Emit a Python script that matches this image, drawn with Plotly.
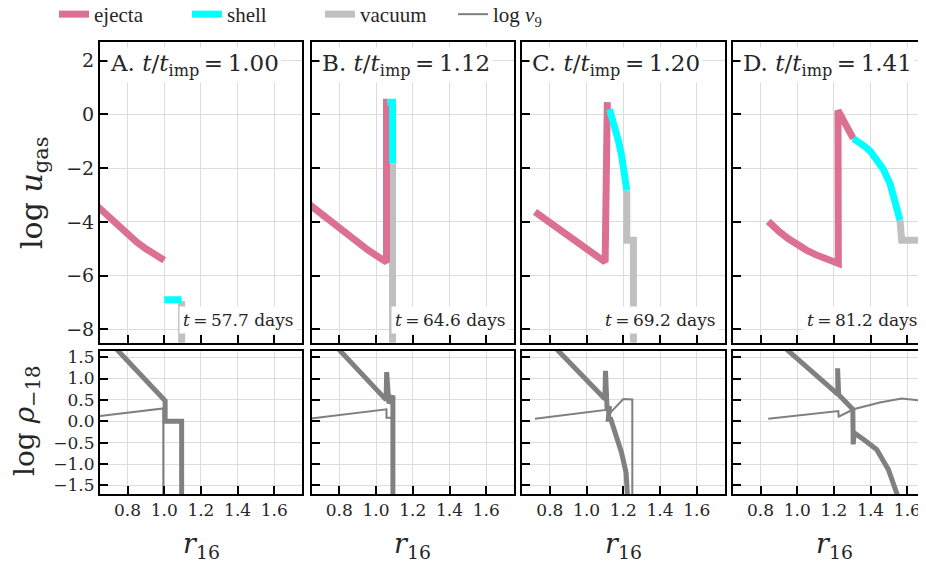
import plotly.graph_objects as go

# ---------------- data ----------------
panel_letters = ["A.", "B.", "C.", "D."]
t_ratio = ["1.00", "1.12", "1.20", "1.41"]
t_days = ["57.7", "64.6", "69.2", "81.2"]
x_ticks = [0.8, 1.0, 1.2, 1.4, 1.6]
u_ticks = [-8, -6, -4, -2, 0, 2]
rho_ticks = [-1.5, -1.0, -0.5, 0.0, 0.5, 1.0, 1.5]

# Panel A
ejA_r = [0.62, 0.66, 0.70, 0.75, 0.80, 0.85, 0.90, 0.95, 1.00]
ejA_u = [-3.32, -3.58, -3.83, -4.16, -4.47, -4.75, -5.00, -5.22, -5.43]
shA_r = [1.00, 1.095]
shA_u = [-6.9, -6.9]
vaA_r = [1.095, 1.095]
vaA_u = [-6.95, -10.0]
rhoA_r = [0.70, 1.005, 1.005, 1.095, 1.095]
rhoA_v = [1.87, 0.48, 0.0, 0.0, -3.0]
v9A_r = [0.60, 0.995, 0.995]
v9A_v = [0.10, 0.30, -3.0]

# Panel B
ejB_r = [0.62, 0.66, 0.70, 0.75, 0.80, 0.85, 0.90, 0.95, 1.00, 1.057, 1.057, 1.062]
ejB_u = [-3.26, -3.48, -3.70, -3.98, -4.25, -4.52, -4.78, -5.02, -5.25, -5.50, 0.46, 0.46]
shB_r = [1.062, 1.09, 1.09]
shB_u = [0.46, 0.46, -1.83]
vaB_r = [1.09, 1.09]
vaB_u = [-1.83, -10.0]
rhoB_r = [0.75, 1.055, 1.058, 1.063, 1.07, 1.092, 1.092]
rhoB_v = [1.90, 0.50, 1.15, 0.45, 0.42, 0.60, -3.0]
v9B_r = [0.62, 1.057, 1.057, 1.087, 1.087]
v9B_v = [0.05, 0.28, 0.08, 0.08, -3.0]

# Panel C
ejC_r = [0.719, 0.76, 0.80, 0.85, 0.90, 0.95, 1.00, 1.05, 1.101, 1.113]
ejC_u = [-3.63, -3.84, -4.03, -4.27, -4.50, -4.76, -5.00, -5.25, -5.49, 0.46]
shC_r = [1.125, 1.15, 1.173, 1.19, 1.20, 1.21, 1.219]
shC_u = [0.20, -0.35, -0.97, -1.50, -1.96, -2.40, -2.83]
vaC_r = [1.219, 1.219, 1.255, 1.255]
vaC_u = [-2.83, -4.68, -4.68, -10.0]
rhoC_r = [0.80, 1.100, 1.103, 1.108, 1.112, 1.125, 1.118, 1.132, 1.155, 1.19, 1.215, 1.225]
rhoC_v = [1.85, 0.52, 1.18, 0.50, 0.25, 0.35, 0.05, 0.05, -0.27, -0.73, -1.20, -1.90]
v9C_r = [0.719, 1.11, 1.118, 1.20, 1.249, 1.249]
v9C_v = [0.06, 0.27, 0.15, 0.52, 0.51, -3.0]

# Panel D
ejD_r = [0.842, 0.87, 0.90, 0.95, 1.00, 1.05, 1.10, 1.16, 1.224, 1.222, 1.306]
ejD_u = [-3.98, -4.17, -4.35, -4.62, -4.85, -5.05, -5.22, -5.39, -5.55, 0.15, -0.90]
shD_r = [1.306, 1.34, 1.37, 1.40, 1.433, 1.47, 1.506, 1.535, 1.56]
shD_u = [-0.90, -1.04, -1.20, -1.38, -1.65, -2.05, -2.58, -3.20, -3.94]
vaD_r = [1.56, 1.569, 1.678, 1.678]
vaD_u = [-3.94, -4.68, -4.68, -10.0]
rhoD_r = [0.90, 1.222, 1.220, 1.226, 1.303, 1.305, 1.31, 1.36, 1.433, 1.497, 1.55, 1.56]
rhoD_v = [1.84, 0.63, 1.24, 0.62, 0.28, -0.54, -0.27, -0.42, -0.66, -1.13, -1.70, -1.90]
v9D_r = [0.842, 1.224, 1.226, 1.306, 1.45, 1.569, 1.678, 1.678]
v9D_v = [0.06, 0.24, 0.11, 0.28, 0.44, 0.53, 0.48, -3.0]

panels = [
    (ejA_r, ejA_u, shA_r, shA_u, vaA_r, vaA_u, rhoA_r, rhoA_v, v9A_r, v9A_v),
    (ejB_r, ejB_u, shB_r, shB_u, vaB_r, vaB_u, rhoB_r, rhoB_v, v9B_r, v9B_v),
    (ejC_r, ejC_u, shC_r, shC_u, vaC_r, vaC_u, rhoC_r, rhoC_v, v9C_r, v9C_v),
    (ejD_r, ejD_u, shD_r, shD_u, vaD_r, vaD_u, rhoD_r, rhoD_v, v9D_r, v9D_v),
]

# ---------------- style ----------------
OFF = 8  # default page body margin
W, H = 926 - OFF, 561 - OFF
C_EJ = "#db7093"
C_SH = "#00ffff"
C_VA = "#c0c0c0"
C_RHO = "#808080"
C_V9 = "#7f7f7f"
FONT = "DejaVu Serif"
LFONT = "Liberation Serif"
TXT = "#262626"

# layout positions in page pixels (converted below to figure fractions)
x_px = [(100, 302), (311.7, 514), (522.3, 724.5), (733, 926)]
top_px = (42, 342.7)
bot_px = (350.7, 494)
xr_full = [0.65, 1.751]
xr_D = [0.65, 0.65 + (926 - 733) / 183.5]


def fx(px):
    return (px - OFF) / W


def fy(py):
    return 1 - (py - OFF) / H


def ax(letter, k):
    return letter if k == 1 else f"{letter}{k}"


fig = go.Figure()

for i, p in enumerate(panels):
    ej_r, ej_u, sh_r, sh_u, va_r, va_u, rho_r, rho_v, v9_r, v9_v = p
    xt, yt = ax("x", i + 1), ax("y", i + 1)
    xb, yb = ax("x", i + 5), ax("y", i + 5)
    first = i == 0
    fig.add_trace(go.Scatter(x=va_r, y=va_u, mode="lines", xaxis=xt, yaxis=yt,
                             line=dict(color=C_VA, width=7), name="vacuum",
                             legendgroup="va", showlegend=first, legendrank=3))
    fig.add_trace(go.Scatter(x=ej_r, y=ej_u, mode="lines", xaxis=xt, yaxis=yt,
                             line=dict(color=C_EJ, width=7), name="ejecta",
                             legendgroup="ej", showlegend=first, legendrank=1))
    fig.add_trace(go.Scatter(x=sh_r, y=sh_u, mode="lines", xaxis=xt, yaxis=yt,
                             line=dict(color=C_SH, width=7), name="shell",
                             legendgroup="sh", showlegend=first, legendrank=2))
    fig.add_trace(go.Scatter(x=rho_r, y=rho_v, mode="lines", xaxis=xb, yaxis=yb,
                             line=dict(color=C_RHO, width=5), name="log rho",
                             showlegend=False))
    fig.add_trace(go.Scatter(x=v9_r, y=v9_v, mode="lines", xaxis=xb, yaxis=yb,
                             line=dict(color=C_V9, width=2),
                             name="log <i>v</i><sub>9</sub>",
                             legendgroup="v9", showlegend=first, legendrank=4))

layout = {}
for i in range(4):
    x0, x1 = x_px[i]
    dom = [fx(x0), min(1.0, fx(x1))]
    xr = xr_D if i == 3 else xr_full
    for row, (ypx, yr, yticks, yfmt, fs) in enumerate([
            (top_px, [-8.5, 2.7], u_ticks, "d", 19),
            (bot_px, [-1.7, 1.65], rho_ticks, ".1f", 17)]):
        k = i + 1 + 4 * row
        ydom = [fy(ypx[1]), fy(ypx[0])]
        layout[f"xaxis{k}"] = dict(
            domain=dom, range=xr, anchor=ax("y", k), tickvals=x_ticks,
            tickformat=".1f", showticklabels=(row == 1), automargin=False,
            ticks="inside", ticklen=8, tickwidth=1.5, tickcolor="black",
            showline=True, linecolor="black", linewidth=2, mirror=True,
            showgrid=True, gridcolor="#dcdcdc", gridwidth=1, zeroline=False,
            tickfont=dict(family=FONT, size=17, color=TXT))
        layout[f"yaxis{k}"] = dict(
            domain=ydom, range=yr, anchor=ax("x", k), tickvals=yticks,
            tickformat=yfmt, showticklabels=(i == 0), automargin=False,
            ticks="inside", ticklen=8, tickwidth=1.5, tickcolor="black",
            showline=True, linecolor="black", linewidth=2,
            mirror=(i != 3),
            showgrid=True, gridcolor="#dcdcdc", gridwidth=1, zeroline=False,
            tickfont=dict(family=FONT, size=fs, color=TXT))

annotations = []
for i in range(4):
    annotations.append(dict(
        xref=ax("x", i + 1) + " domain", yref=ax("y", i + 1) + " domain",
        x=0.035, y=0.985,
        xanchor="left", yanchor="top", showarrow=False, bgcolor="white",
        borderpad=2,
        text=f"{panel_letters[i]} <i>t</i>/<i>t</i><sub>imp</sub>\u2009=\u2009{t_ratio[i]}",
        font=dict(family=FONT, size=23, color=TXT)))
    annotations.append(dict(
        xref=ax("x", i + 1) + " domain", yref=ax("y", i + 1) + " domain",
        x=0.975, y=0.03,
        xanchor="right", yanchor="bottom", showarrow=False, bgcolor="white",
        borderpad=3,
        text=f"<i>t</i>\u2009=\u2009{t_days[i]} days",
        font=dict(family=FONT, size=17, color=TXT)))
    cx = fx(x_px[i][0] + 101)
    annotations.append(dict(
        xref="paper", yref="paper", x=cx, y=fy(545),
        xanchor="center", yanchor="middle", showarrow=False,
        text="<i>r</i><sub>16</sub>", font=dict(family=FONT, size=27, color=TXT)))

annotations.append(dict(
    xref="paper", yref="paper", x=fx(33), y=fy(193), textangle=-90,
    xanchor="center", yanchor="middle", showarrow=False,
    text="log <i>u</i><sub>gas</sub>", font=dict(family=FONT, size=30, color=TXT)))
annotations.append(dict(
    xref="paper", yref="paper", x=fx(26), y=fy(421), textangle=-90,
    xanchor="center", yanchor="middle", showarrow=False,
    text="log <i>ρ</i><sub>−18</sub>", font=dict(family=FONT, size=28, color=TXT)))

fig.update_layout(
    width=W, height=H,
    margin=dict(l=0, r=0, t=0, b=0, autoexpand=False),
    paper_bgcolor="white", plot_bgcolor="white",
    showlegend=True,
    legend=dict(orientation="h", x=46 / W, y=1 + 14 / H, xanchor="left", yanchor="top",
                entrywidth=88, entrywidthmode="pixels", itemwidth=30,
                font=dict(family=LFONT, size=21, color=TXT),
                bgcolor="rgba(0,0,0,0)", tracegroupgap=0),
    annotations=annotations,
    **layout,
)

fig.write_html("out.html")
